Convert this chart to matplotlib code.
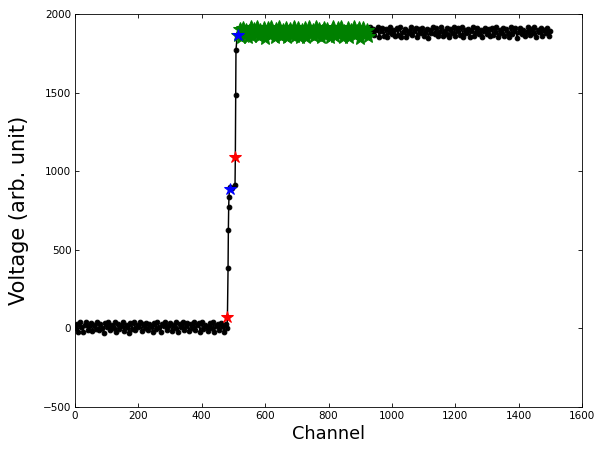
import numpy as np
import matplotlib
matplotlib.use("Agg")
from matplotlib import pyplot as plt

# baseline before the step (every 5 channels)
base_ch = list(range(0, 481, 5))
base_v = [2, 30, -20, 38, 12, -25, 22, 41, -8, 15,
          36, -15, 19, -2, 43, -12, 28, 6, -27, 35,
          10, 44, -10, 24, 0, 39, -22, 30, -5, 17,
          42, -14, 25, 8, -26, 33, -3, 40, -9, 21,
          11, 44, -18, 31, 4, 37, -13, 26, 14, -24,
          32, -6, 41, 7, -21, 27, 18, 38, -11, 13,
          36, -16, 23, 1, 43, -25, 29, 9, 40, -7,
          16, 34, -19, 26, 3, 42, -10, 20, 33, -23,
          39, -4, 24, 12, -17, 35, 6, 41, -20, 18,
          28, -8, 37, 13, -22, 31, 5]

# rising edge, sampled every channel
edge_ch = [481, 483, 484, 485, 486, 488, 490, 497, 505, 506, 507, 508, 512]
edge_v = [70, 382, 626, 774, 838, 900, 887, 895, 912, 1090, 1485, 1771, 1866]

# plateau after the step
top_ch = list(range(515, 1501, 5))
top_v = [1870, 1905, 1855, 1915, 1878, 1900, 1852, 1893, 1918, 1862,
         1908, 1872, 1920, 1858, 1896, 1880, 1912, 1851, 1888, 1910,
         1866, 1917, 1882, 1856, 1903, 1874, 1919, 1860, 1898, 1885,
         1914, 1853, 1891, 1906, 1869, 1918, 1863, 1889, 1911, 1857,
         1901, 1880, 1913, 1852, 1886, 1916, 1871, 1897, 1859, 1920,
         1876, 1904, 1856, 1890, 1914, 1868, 1907, 1883, 1854, 1899,
         1917, 1861, 1887, 1910, 1873, 1920, 1857, 1895, 1879, 1915,
         1855, 1902, 1877, 1918, 1865, 1892, 1909, 1851, 1888, 1912,
         1872, 1900, 1858, 1919, 1882, 1906, 1867, 1896, 1916, 1856,
         1890, 1913, 1862, 1904, 1853, 1884, 1920, 1875, 1899, 1860,
         1910, 1870, 1917, 1857, 1887, 1908, 1852, 1894, 1881, 1918,
         1866, 1891, 1914, 1855, 1903, 1877, 1912, 1861, 1889, 1906,
         1851, 1898, 1883, 1919, 1872, 1909, 1858, 1886, 1916, 1864,
         1893, 1874, 1913, 1853, 1904, 1882, 1920, 1860, 1890, 1911,
         1869, 1917, 1856, 1900, 1879, 1908, 1852, 1895, 1918, 1863,
         1887, 1912, 1873, 1902, 1855, 1891, 1915, 1876, 1906, 1858,
         1914, 1865, 1889, 1919, 1853, 1897, 1880, 1910, 1861, 1903,
         1883, 1857, 1918, 1871, 1893, 1909, 1851, 1888, 1913, 1874,
         1899, 1860, 1886, 1916, 1868, 1907, 1878, 1920, 1855, 1896,
         1884, 1911, 1864, 1901, 1877, 1914, 1859, 1890]

# start / end of each rise
start_ch = [481, 506]
start_v = [70, 1090]
end_ch = [490, 515]
end_v = [887, 1870]

# plateau window used for the level estimate
win_lo, win_hi = 515, 925

channel = np.array(base_ch + edge_ch + top_ch)
voltage = np.array(base_v + edge_v + top_v)

plt.rcParams['xtick.direction'] = 'in'
plt.rcParams['ytick.direction'] = 'in'
plt.rcParams['xtick.top'] = True
plt.rcParams['ytick.right'] = True

fig = plt.figure(figsize=(8, 449 / 75), dpi=75)
ax = fig.add_axes([0.125, 0.0935, 0.845, 0.875])

ax.plot(channel, voltage, color='k', lw=1.4, marker='o', markersize=4.5)

win = (channel >= win_lo) & (channel <= win_hi)
ax.plot(channel[win], voltage[win], linestyle='', marker='*', color=(0, 0.5, 0),
        markeredgecolor=(0, 0.5, 0), markersize=14)
ax.plot(start_ch, start_v, linestyle='', marker='*', color='r', markersize=12)
ax.plot(end_ch, end_v, linestyle='', marker='*', color='b', markersize=12)

ax.set_xlim(0, 1600)
ax.set_ylim(-500, 2000)
ax.set_xticks(np.arange(0, 1601, 200))
ax.set_yticks(np.arange(-500, 2001, 500))
ax.tick_params(labelsize=10, length=4)
ax.set_xlabel("Channel", fontsize=17)
ax.set_ylabel("Voltage (arb. unit)", fontsize=20, labelpad=13)

fig.savefig("out.png")
